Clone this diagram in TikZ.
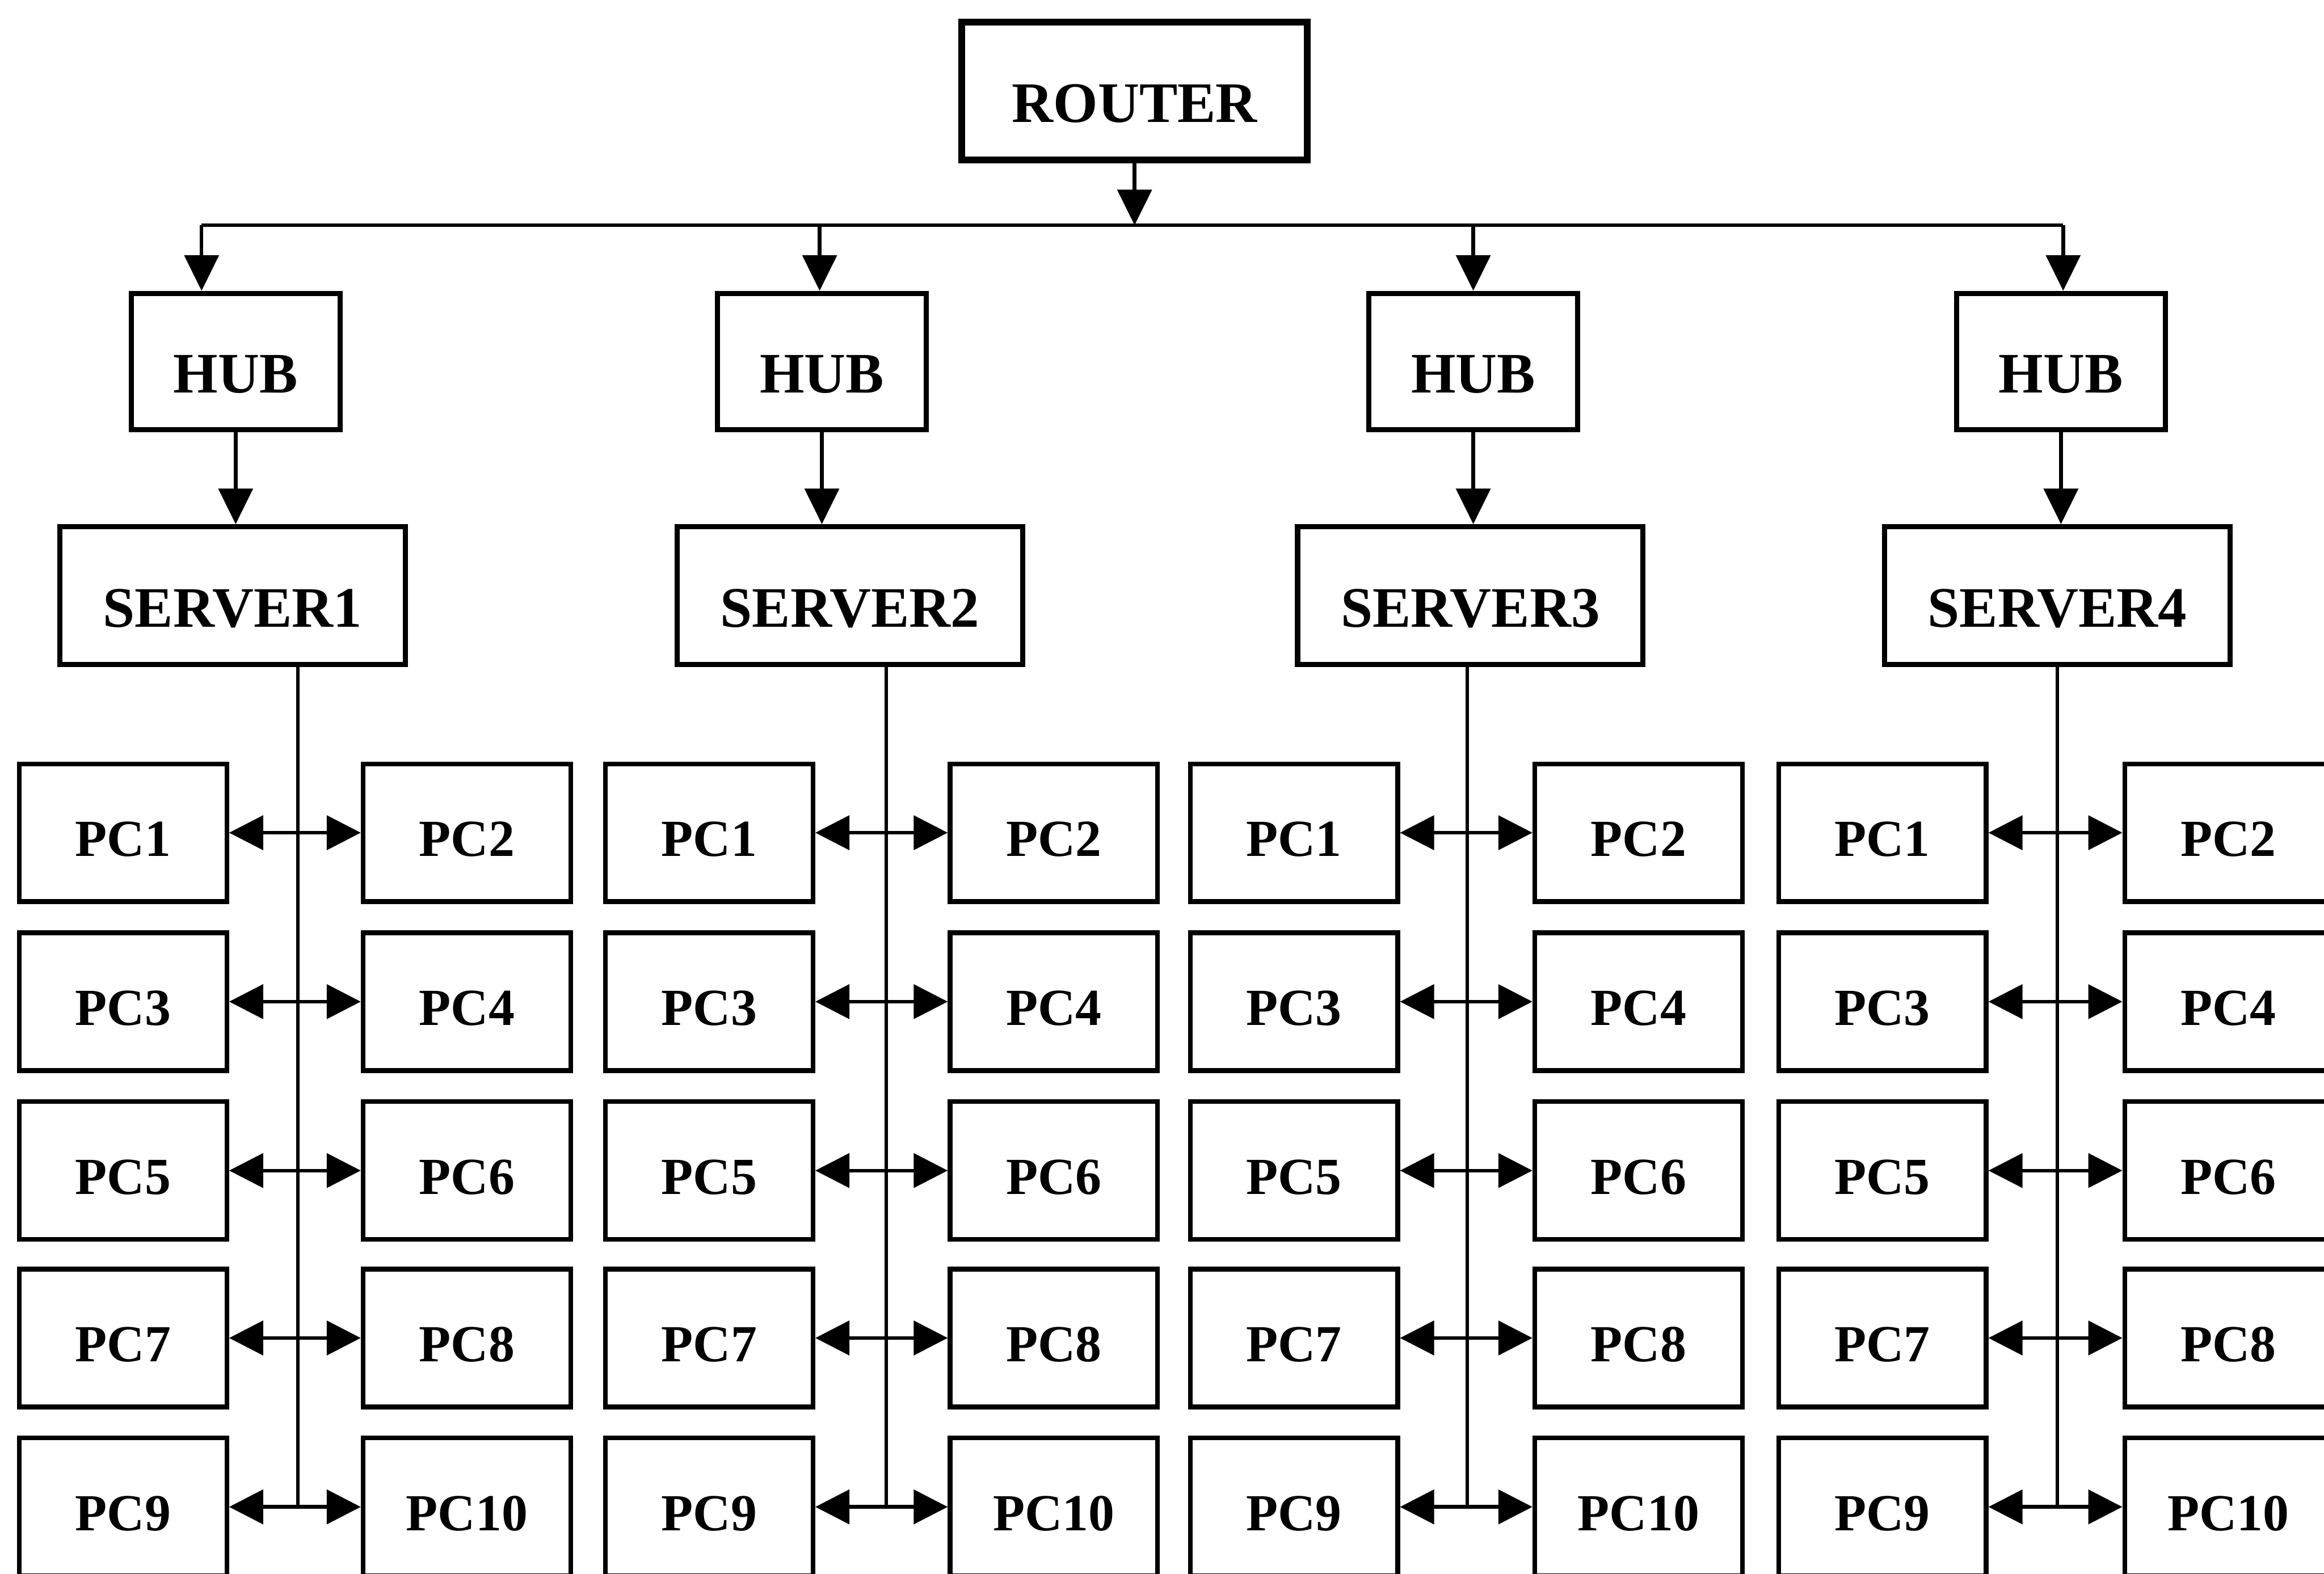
\documentclass[tikz,border=0pt]{standalone}
\usepackage{fontspec}
\setmainfont{Liberation Serif}
\usetikzlibrary{arrows.meta}

\begin{document}
\begin{tikzpicture}[
    top box/.style={draw=black, line width=1pt, minimum width=2.33cm, minimum height=0.93cm, inner sep=0pt, text height=12pt, text depth=0pt, font=\fontsize{11}{13}\selectfont\bfseries},
    hub box/.style={top box, minimum width=1.41cm, minimum height=0.92cm},
    pc box/.style={draw=black, line width=0.9pt, minimum width=1.4cm, minimum height=0.93cm, inner sep=0pt, text height=9pt, text depth=0pt, font=\fontsize{10}{12}\selectfont\bfseries},
    feed/.style={line width=0.7pt, -{Triangle[length=2.4mm, width=2.3mm]}},
    trunk/.style={line width=0.7pt},
    pc link/.style={line width=0.7pt, {Triangle[length=2.3mm, width=2.3mm]}-{Triangle[length=2.3mm, width=2.3mm]}}
    ]
    \useasboundingbox (0,0) rectangle (15.68,-10.62);

    % router and bus
    \node [top box, line width=1.3pt] (router) at (7.655,-0.615) {ROUTER};
    \coordinate (bus) at (7.655,-1.52);
    \draw [feed] (router.south) -- (bus);

    % hubs and servers
    \foreach \i/\bx/\hx/\sx in {1/1.36/1.59/1.57, 2/5.53/5.545/5.735, 3/9.94/9.94/9.92, 4/13.92/13.905/13.88} {
        \coordinate (drop\i) at (\bx,-1.52);
        \node [hub box] (hub\i) at (\hx,-2.44) {HUB};
        \node [top box] (server\i) at (\sx,-4.02) {SERVER\i};
        \draw [feed] (drop\i) -- (drop\i |- hub\i.north);
        \draw [feed] (hub\i.south) -- (hub\i.south |- server\i.north);
    }
    \draw [trunk] (drop1) -- (drop4);

    % pc pairs on each server line
    \foreach \i/\lx/\rx/\tx in {1/0.83/3.15/2.01, 2/4.785/7.11/5.98, 3/8.73/11.055/9.90, 4/12.70/15.035/13.88} {
        \foreach \a/\b/\y in {1/2/5.62, 3/4/6.76, 5/6/7.90, 7/8/9.03, 9/10/10.17} {
            \node [pc box] (pc\i-\a) at (\lx,-\y) {PC\a};
            \node [pc box] (pc\i-\b) at (\rx,-\y) {PC\b};
            \draw [pc link] (pc\i-\a) -- (pc\i-\b);
        }
        \coordinate (tap\i) at (\tx,0);
        \draw [trunk] (server\i.south -| tap\i) -- (pc\i-9 -| tap\i);
    }
\end{tikzpicture}
\end{document}
